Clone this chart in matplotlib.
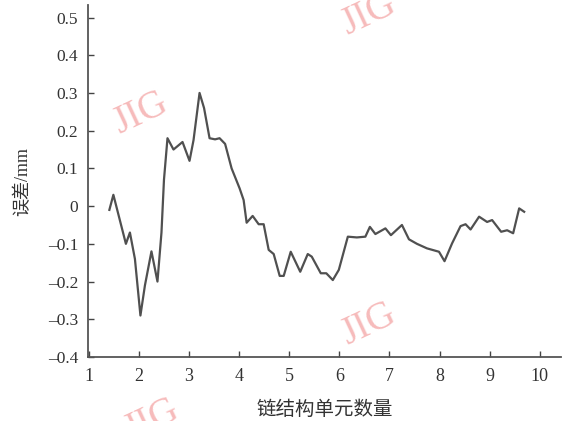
"""Error vs. number of chain structure units (single trace, JIG watermark)."""

import matplotlib

matplotlib.use("Agg")
import matplotlib.pyplot as plt

# values
units = [1.41, 1.49, 1.74, 1.82, 1.92, 2.03, 2.12, 2.25, 2.37, 2.45,
         2.50, 2.57, 2.69, 2.87, 3.01, 3.09, 3.21, 3.30, 3.41, 3.52,
         3.61, 3.72, 3.85, 4.01, 4.09, 4.15, 4.27, 4.39, 4.49, 4.59,
         4.69, 4.81, 4.89, 5.03, 5.22, 5.37, 5.45, 5.63, 5.74, 5.87,
         5.99, 6.17, 6.35, 6.52, 6.61, 6.72, 6.92, 7.03, 7.25, 7.39,
         7.55, 7.75, 7.99, 8.10, 8.25, 8.42, 8.52, 8.62, 8.79, 8.95,
         9.05, 9.23, 9.35, 9.47, 9.59, 9.69]
error_mm = [-0.010, 0.030, -0.100, -0.070, -0.140, -0.290, -0.210, -0.120, -0.200, -0.070,
            0.070, 0.180, 0.150, 0.170, 0.120, 0.175, 0.300, 0.260, 0.180, 0.177,
            0.180, 0.165, 0.100, 0.047, 0.016, -0.044, -0.026, -0.048, -0.048, -0.116,
            -0.127, -0.185, -0.185, -0.121, -0.174, -0.127, -0.134, -0.178, -0.178, -0.196,
            -0.169, -0.081, -0.083, -0.081, -0.055, -0.074, -0.059, -0.077, -0.050, -0.088,
            -0.100, -0.112, -0.121, -0.146, -0.099, -0.053, -0.048, -0.062, -0.028, -0.042,
            -0.037, -0.068, -0.064, -0.072, -0.006, -0.015]

x_ticks = [1, 2, 3, 4, 5, 6, 7, 8, 9, 10]
y_ticks = [-0.4, -0.3, -0.2, -0.1, 0.0, 0.1, 0.2, 0.3, 0.4, 0.5]
y_tick_labels = ["\u20130.4", "\u20130.3", "\u20130.2", "\u20130.1", "0",
                 "0.1", "0.2", "0.3", "0.4", "0.5"]

SERIF = ["Liberation Serif", "Noto Sans CJK SC"]
plt.rcParams["font.family"] = SERIF

fig = plt.figure(figsize=(5.63, 4.21), dpi=100)
ax = fig.add_axes([0.156, 0.152, 0.840, 0.836])

ax.plot(units, error_mm, color="#505050", lw=1.6)

ax.set_xlim(0.98, 10.42)
ax.set_ylim(-0.4, 0.533)
ax.set_xticks(x_ticks)
ax.set_xticklabels([str(t) for t in x_ticks], fontsize=13, color="#333333")
ax.set_yticks(y_ticks)
ax.set_yticklabels(y_tick_labels, fontsize=12.5, color="#333333")
ax.tick_params(axis="x", direction="in", length=4, width=1.0, color="#444444", pad=8)
ax.tick_params(axis="y", direction="in", length=4, width=1.0, color="#444444", pad=7)

for side in ("top", "right"):
    ax.spines[side].set_visible(False)
for side in ("left", "bottom"):
    ax.spines[side].set_color("#555555")
    ax.spines[side].set_linewidth(1.3)

ax.set_xlabel("链结构单元数量", fontsize=14, color="#333333", labelpad=11)
ax.set_ylabel("误差/mm", fontsize=13, color="#333333", labelpad=12)

# pink watermark stamps
wm_pos = [(0.25, 0.73), (0.655, 0.965), (0.655, 0.23), (0.27, 0.0)]
for wx, wy in wm_pos:
    fig.text(wx, wy, "JIG", fontsize=28, color="#f6b4b4", rotation=25,
             ha="center", va="center", family="Liberation Serif", alpha=0.9)

fig.savefig("out.png", dpi=100)
